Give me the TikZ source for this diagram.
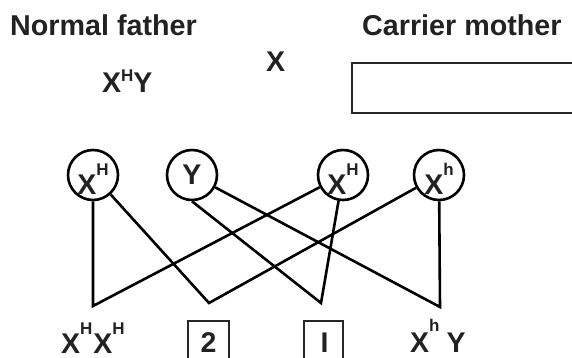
\documentclass[tikz,border=0pt]{standalone}
\usepackage{fontspec}
\setmainfont{Liberation Sans}
\definecolor{ink}{HTML}{222222}
% small raised allele letter: optional raise, then the letter
\newcommand\allele[2][20]{\raisebox{#1pt}{\fontsize{17}{17}\selectfont #2}}
\begin{document}
\begin{tikzpicture}[x=1pt,y=-1pt,
  title/.style={font=\fontsize{28.7}{30}\selectfont\bfseries, inner sep=0, anchor=base west, text=ink},
  geno/.style={font=\fontsize{28.5}{30}\selectfont\bfseries, inner sep=0, text=ink},
  gamete/.style={geno, circle, draw=black, line width=2.6pt, minimum size=50pt},
  xgamete/.style={gamete, text height=38pt, text depth=0pt},
  link/.style={line width=2.6pt, line join=miter},
  frame/.style={draw=black!85, line width=2.4pt}]
\useasboundingbox (0,0) rectangle (572,358);
\clip (0,0) rectangle (572,358);

% parents
\node[title] (father) at (10,36) {Normal father};
\node[title] (mother) at (362,36) {Carrier mother};
\node[geno, anchor=base west] (fgen) at (102,93) {X\allele[11]{H}Y};
\node[geno, anchor=base west] (mx) at (266,72) {X};
\draw[frame] (352,63) rectangle (590,113);

% gametes
\node[xgamete] (fXH) at (93,175) {X\allele[19]{H}};
\node[gamete]  (fY)  at (192,175) {Y};
\node[xgamete] (mXH) at (343,175) {X\allele[19]{H}};
\node[xgamete] (mXh) at (439,175) {X\allele[19]{h}};

% fertilisation points
\coordinate (v1) at (93,306);
\coordinate (v2) at (209,303);
\coordinate (v3) at (321,303);
\coordinate (v4) at (440,307);

\draw[link] (fXH) -- (v1) -- (mXH);
\draw[link] (fXH) -- (v2) -- (mXh);
\draw[link] (fY.south) -- (v3) -- (mXH);
\draw[link] (fY) -- (v4) -- (mXh);

% offspring
\node[geno, anchor=base west] (c1) at (61,353) {X\allele[19]{H}\kern1pt X\allele[19]{H}};
\node[geno, anchor=base] (c2) at (208.5,352) {2};
\draw[frame] (188,321) rectangle (229,380);
\node[geno, anchor=base] (c3) at (324.5,352) {I};
\draw[frame] (304,321) rectangle (343,380);
\node[geno, anchor=base west] (c4) at (410,352) {X\allele[21]{h}\kern7pt Y};
\end{tikzpicture}
\end{document}
